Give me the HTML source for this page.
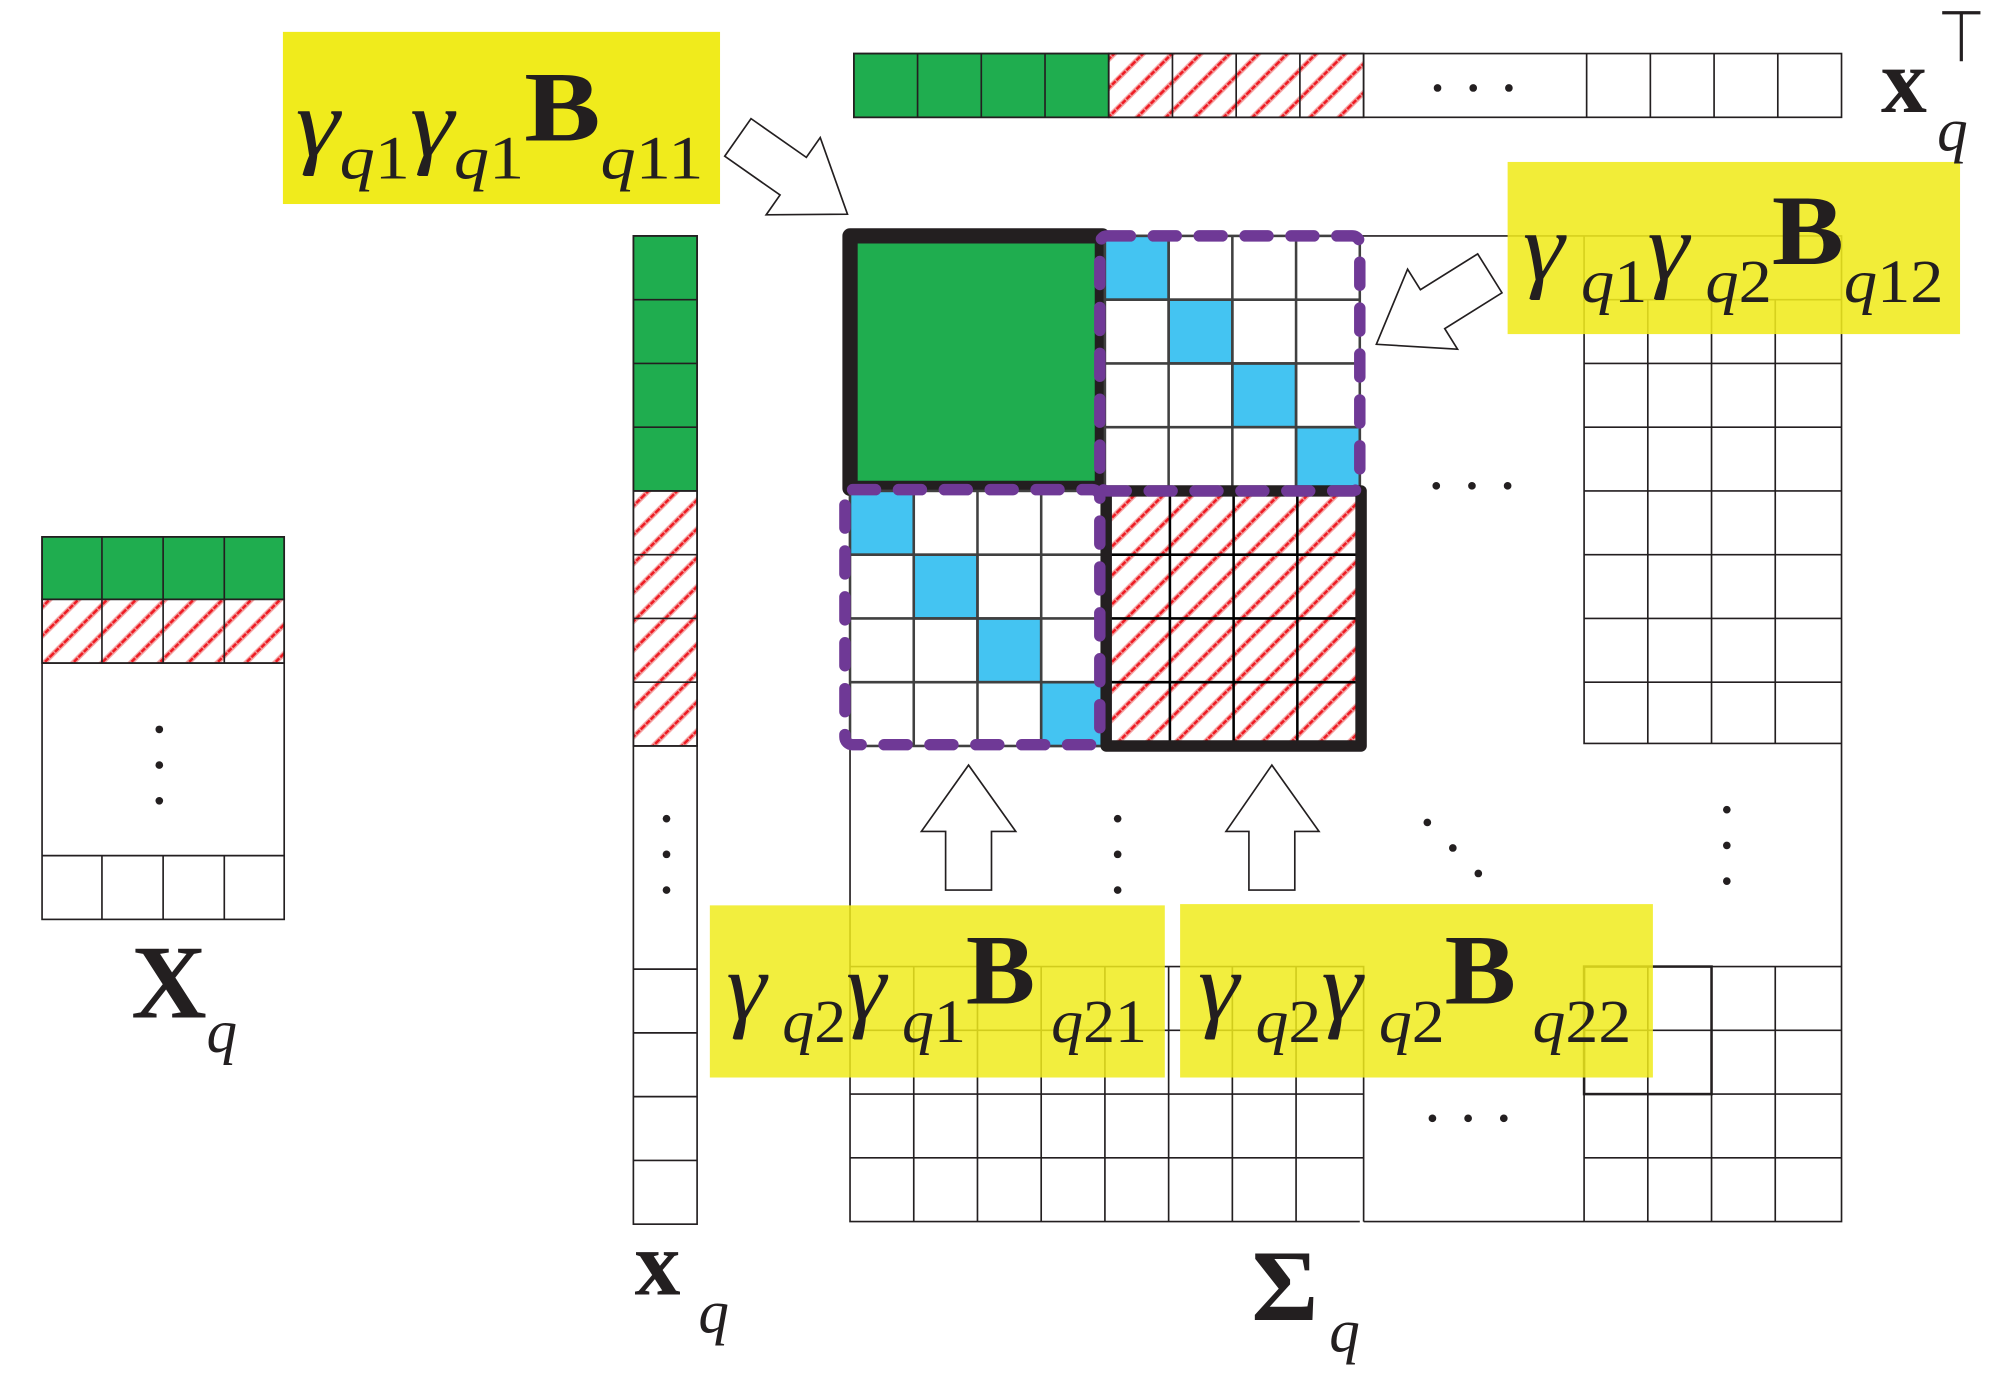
<!DOCTYPE html>
<html><head><meta charset="utf-8">
<style>
html,body{margin:0;padding:0;background:#fff;}
svg{display:block;}
text{font-family:"Liberation Serif",serif;fill:#231f20;}
</style></head>
<body>
<svg width="1997" height="1381" viewBox="0 0 1567 1083" preserveAspectRatio="none" xmlns="http://www.w3.org/2000/svg">
<defs>
<pattern id="h" patternUnits="userSpaceOnUse" width="16" height="16" patternTransform="rotate(-45)">
<rect width="16" height="16" fill="#fff"/>
<line x1="0" y1="8" x2="16" y2="8" stroke="#f4a0a0" stroke-width="4"/>
<line x1="0" y1="8" x2="16" y2="8" stroke="#ee1c24" stroke-width="2" stroke-dasharray="4 1"/>
</pattern>
</defs>
<g stroke="#231f20" stroke-width="1.3" fill="none">
<rect x="670" y="42" width="200" height="50" fill="#1fad4f"/>
<rect x="870" y="42" width="200" height="50" fill="url(#h)"/>
<rect x="670" y="42" width="775" height="50"/>
<path d="M720 42V92M770 42V92M820 42V92M870 42V92M920 42V92M970 42V92M1020 42V92M1070 42V92M1245 42V92M1295 42V92M1345 42V92M1395 42V92"/>
<rect x="497" y="185" width="50" height="200" fill="#1fad4f"/>
<rect x="497" y="385" width="50" height="200" fill="url(#h)"/>
<rect x="497" y="185" width="50" height="775"/>
<path d="M497 235H547M497 285H547M497 335H547M497 385H547M497 435H547M497 485H547M497 535H547M497 585H547M497 760H547M497 810H547M497 860H547M497 910H547"/>
<rect x="33" y="421" width="190" height="49" fill="#1fad4f"/>
<rect x="33" y="470" width="190" height="50" fill="url(#h)"/>
<rect x="33" y="421" width="190" height="300"/>
<path d="M80 421V520M128 421V520M176 421V520M33 470H223M33 520H223M33 671H223M80 671V721M128 671V721M176 671V721"/>
<path d="M1067 185H1445V958H1243M1067 958H667V585"/>
<path d="M1070 958H1243"/>
<path d="M1243 185V583H1445M1293 235V583M1343 235V583M1393 235V583M1243 235H1445M1243 285H1445M1243 335H1445M1243 385H1445M1243 435H1445M1243 485H1445M1243 535H1445"/>
<path d="M667 758H1070V958M717 758V958M767 758V958M817 758V958M867 758V958M917 758V958M967 758V958M1017 758V958M667 808H1070M667 858H1070M667 908H1070"/>
<path d="M1243 758H1445M1243 758V958M1293 758V958M1343 758V958M1393 758V958M1243 808H1445M1243 858H1445M1243 908H1445"/>
</g>
<rect x="1243" y="758" width="100" height="100" fill="none" stroke="#231f20" stroke-width="2"/>
<rect x="667" y="185" width="198" height="198" fill="#1fad4f" stroke="#231f20" stroke-width="12" stroke-linejoin="round"/>
<g stroke="#404040" stroke-width="2">
<rect x="867" y="185" width="200" height="200" fill="#fff"/>
<rect x="867" y="185" width="50" height="50" fill="#44c4f2"/>
<rect x="917" y="235" width="50" height="50" fill="#44c4f2"/>
<rect x="967" y="285" width="50" height="50" fill="#44c4f2"/>
<rect x="1017" y="335" width="50" height="50" fill="#44c4f2"/>
<path d="M917 185V385M967 185V385M1017 185V385M867 235H1067M867 285H1067M867 335H1067" fill="none"/>
</g>
<g stroke="#404040" stroke-width="2">
<rect x="667" y="385" width="200" height="200" fill="#fff"/>
<rect x="667" y="385" width="50" height="50" fill="#44c4f2"/>
<rect x="717" y="435" width="50" height="50" fill="#44c4f2"/>
<rect x="767" y="485" width="50" height="50" fill="#44c4f2"/>
<rect x="817" y="535" width="50" height="50" fill="#44c4f2"/>
<path d="M717 385V585M767 385V585M817 385V585M667 435H867M667 485H867M667 535H867" fill="none"/>
</g>
<rect x="870" y="388" width="198" height="196" fill="url(#h)"/>
<path d="M918 388V584M968 388V584M1018 388V584M870 435H1068M870 485H1068M870 535H1068" stroke="#000" stroke-width="2"/>
<rect x="868" y="385" width="200" height="200" fill="none" stroke="#231f20" stroke-width="9" stroke-linejoin="round"/>
<g fill="none" stroke="#6f3996" stroke-width="9" stroke-linecap="round" stroke-dasharray="18 18">
<rect x="863" y="185" width="204" height="200" rx="6"/>
<rect x="663" y="384" width="200" height="200" rx="6"/>
</g>
<g fill="#231f20">
<circle cx="1128" cy="69" r="3"/><circle cx="1156" cy="69" r="3"/><circle cx="1184" cy="69" r="3"/>
<circle cx="1127" cy="381" r="3"/><circle cx="1155" cy="381" r="3"/><circle cx="1183" cy="381" r="3"/>
<circle cx="1124" cy="877" r="3"/><circle cx="1152" cy="877" r="3"/><circle cx="1180" cy="877" r="3"/>
<circle cx="125" cy="572" r="3"/><circle cx="125" cy="600" r="3"/><circle cx="125" cy="628" r="3"/>
<circle cx="523" cy="642" r="3"/><circle cx="523" cy="670" r="3"/><circle cx="523" cy="698" r="3"/>
<circle cx="877" cy="642" r="3"/><circle cx="877" cy="670" r="3"/><circle cx="877" cy="698" r="3"/>
<circle cx="1355" cy="635" r="3"/><circle cx="1355" cy="663" r="3"/><circle cx="1355" cy="691" r="3"/>
<circle cx="1120" cy="645" r="3"/><circle cx="1140" cy="665" r="3"/><circle cx="1160" cy="685" r="3"/>
</g>
<g fill="#fff" stroke="#231f20" stroke-width="1.3">
<polygon points="742,698 742,652 723,652 760,600 797,652 778,652 778,698"/>
<polygon points="980,698 980,652 962,652 998,600 1035,652 1016,652 1016,698"/>
<polygon transform="translate(665,168) rotate(35)" points="-105,-18 -52,-18 -52,-37 0,0 -52,37 -52,18 -105,18"/>
<polygon transform="translate(1080,270) rotate(148)" points="-105,-18 -52,-18 -52,-37 0,0 -52,37 -52,18 -105,18"/>
</g>
<rect x="222" y="25" width="343" height="135" fill="#f0eb1c"/>
<rect x="1183" y="127" width="355" height="135" fill="#f0eb1c" fill-opacity="0.88"/>
<rect x="557" y="710" width="357" height="135" fill="#f0eb1c" fill-opacity="0.85"/>
<rect x="926" y="709" width="371" height="136" fill="#f0eb1c" fill-opacity="0.85"/>
<g font-size="48">
<text x="232" y="122" textLength="320" lengthAdjust="spacingAndGlyphs"><tspan font-style="italic" font-size="76">γ</tspan><tspan font-style="italic" dy="18">q</tspan><tspan>1</tspan><tspan font-style="italic" font-size="76" dy="-18">γ</tspan><tspan font-style="italic" dy="18">q</tspan><tspan>1</tspan><tspan font-weight="bold" font-size="78" dy="-30">B</tspan><tspan font-style="italic" dy="30">q</tspan><tspan>11</tspan></text>
<text x="1195" y="219" textLength="330" lengthAdjust="spacingAndGlyphs"><tspan font-style="italic" font-size="76">γ</tspan><tspan font-style="italic" dy="18"> q</tspan><tspan>1</tspan><tspan font-style="italic" font-size="76" dy="-18">γ</tspan><tspan font-style="italic" dy="18"> q</tspan><tspan>2</tspan><tspan font-weight="bold" font-size="78" dy="-30">B</tspan><tspan font-style="italic" dy="30">q</tspan><tspan>12</tspan></text>
<text x="570" y="799" textLength="330" lengthAdjust="spacingAndGlyphs"><tspan font-style="italic" font-size="76">γ</tspan><tspan font-style="italic" dy="18"> q</tspan><tspan>2</tspan><tspan font-style="italic" font-size="76" dy="-18">γ</tspan><tspan font-style="italic" dy="18"> q</tspan><tspan>1</tspan><tspan font-weight="bold" font-size="78" dy="-30">B</tspan><tspan font-style="italic" dy="30"> q</tspan><tspan>21</tspan></text>
<text x="940" y="799" textLength="340" lengthAdjust="spacingAndGlyphs"><tspan font-style="italic" font-size="76">γ</tspan><tspan font-style="italic" dy="18"> q</tspan><tspan>2</tspan><tspan font-style="italic" font-size="76" dy="-18">γ</tspan><tspan font-style="italic" dy="18"> q</tspan><tspan>2</tspan><tspan font-weight="bold" font-size="78" dy="-30">B</tspan><tspan font-style="italic" dy="30"> q</tspan><tspan>22</tspan></text>
</g>
<text x="103" y="798" font-size="82" font-weight="bold">X</text>
<text x="162" y="825" font-size="48" font-style="italic">q</text>
<text x="498" y="1015" font-size="72" font-weight="bold">x</text>
<text x="548" y="1045" font-size="48" font-style="italic">q</text>
<text x="982" y="1035" font-size="80" font-weight="bold">Σ</text>
<text x="1043" y="1060" font-size="48" font-style="italic">q</text>
<text x="1476" y="88" font-size="72" font-weight="bold">x</text>
<text x="1520" y="118" font-size="48" font-style="italic">q</text>
<path d="M1524 10H1554M1539 10V48" stroke="#231f20" stroke-width="2.5" fill="none"/>
</svg>
</body></html>
